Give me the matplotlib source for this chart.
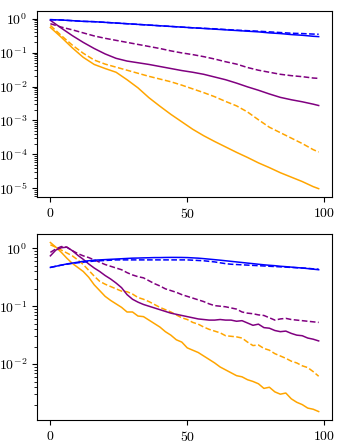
import numpy as np
import matplotlib
matplotlib.use("Agg")
import matplotlib.pyplot as plt

plt.rcParams["font.family"] = "serif"
plt.rcParams["font.serif"] = ["cmr10", "DejaVu Serif"]
plt.rcParams["mathtext.fontset"] = "cm"
plt.rcParams["axes.formatter.use_mathtext"] = True
plt.rcParams["font.size"] = 10

# ---- top panel: values (log10 of y) ----
x_top = [0, 4, 8, 12, 16, 20, 24, 28, 32, 36, 40, 44, 48, 52, 56, 60, 64,
         68, 72, 76, 80, 84, 88, 92, 96, 98]

top_blue_solid = [-0.03, -0.04, -0.06, -0.08, -0.09, -0.11, -0.13, -0.15, -0.17,
                  -0.19, -0.21, -0.23, -0.25, -0.27, -0.29, -0.31, -0.33, -0.35,
                  -0.37, -0.39, -0.42, -0.44, -0.47, -0.49, -0.52, -0.53]
top_blue_dashed = [-0.03, -0.04, -0.06, -0.08, -0.09, -0.11, -0.13, -0.15, -0.17,
                   -0.19, -0.21, -0.23, -0.25, -0.27, -0.285, -0.30, -0.32, -0.34,
                   -0.355, -0.37, -0.39, -0.41, -0.43, -0.44, -0.455, -0.46]
top_purple_solid = [-0.05, -0.28, -0.50, -0.70, -0.88, -1.04, -1.17, -1.25, -1.30,
                    -1.35, -1.41, -1.47, -1.53, -1.58, -1.64, -1.72, -1.80, -1.90,
                    -2.01, -2.11, -2.22, -2.32, -2.39, -2.45, -2.52, -2.56]
top_purple_dashed = [-0.15, -0.25, -0.33, -0.42, -0.51, -0.58, -0.64, -0.70, -0.76,
                     -0.82, -0.88, -0.95, -1.01, -1.06, -1.12, -1.19, -1.27, -1.34,
                     -1.44, -1.52, -1.58, -1.64, -1.68, -1.71, -1.75, -1.76]
top_orange_solid = [-0.26, -0.55, -0.86, -1.14, -1.35, -1.47, -1.58, -1.80, -2.04,
                    -2.33, -2.58, -2.82, -3.04, -3.26, -3.45, -3.62, -3.78, -3.94,
                    -4.09, -4.25, -4.39, -4.54, -4.67, -4.80, -4.95, -5.01]
top_orange_dashed = [-0.20, -0.50, -0.78, -1.02, -1.22, -1.34, -1.43, -1.52, -1.61,
                     -1.70, -1.78, -1.86, -1.96, -2.07, -2.18, -2.30, -2.44, -2.57,
                     -2.75, -2.98, -3.20, -3.36, -3.52, -3.68, -3.86, -3.93]

# ---- bottom panel (log10 of y) ----
x_bot = list(range(0, 100, 2))

bot_blue_solid = [-0.33, -0.31, -0.29, -0.27, -0.255, -0.24, -0.225, -0.215, -0.205, -0.20,
                  -0.195, -0.19, -0.185, -0.18, -0.175, -0.17, -0.168, -0.165, -0.163, -0.16,
                  -0.16, -0.158, -0.157, -0.157, -0.158, -0.16, -0.165, -0.17, -0.178, -0.187,
                  -0.196, -0.205, -0.215, -0.225, -0.235, -0.245, -0.255, -0.265, -0.275, -0.285,
                  -0.293, -0.30, -0.31, -0.317, -0.325, -0.333, -0.34, -0.35, -0.36, -0.37]
bot_blue_dashed = [-0.33, -0.31, -0.29, -0.275, -0.26, -0.25, -0.24, -0.23, -0.22, -0.215,
                   -0.21, -0.205, -0.20, -0.20, -0.20, -0.20, -0.20, -0.20, -0.20, -0.20,
                   -0.20, -0.20, -0.20, -0.20, -0.20, -0.20, -0.205, -0.21, -0.215, -0.225,
                   -0.235, -0.25, -0.265, -0.275, -0.28, -0.285, -0.29, -0.295, -0.30, -0.305,
                   -0.31, -0.315, -0.32, -0.325, -0.33, -0.335, -0.34, -0.345, -0.355, -0.36]
bot_purple_solid = [-0.13, -0.03, 0.01, 0.02, -0.04, -0.12, -0.19, -0.27, -0.34, -0.40,
                    -0.47, -0.53, -0.60, -0.68, -0.80, -0.88, -0.93, -0.97, -1.00, -1.03,
                    -1.06, -1.09, -1.12, -1.14, -1.16, -1.18, -1.20, -1.22, -1.23, -1.24,
                    -1.24, -1.23, -1.24, -1.24, -1.26, -1.25, -1.29, -1.33, -1.31, -1.37,
                    -1.38, -1.42, -1.44, -1.43, -1.47, -1.50, -1.51, -1.55, -1.57, -1.60]
bot_purple_dashed = [-0.07, -0.01, 0.03, 0.02, -0.04, -0.09, -0.13, -0.16, -0.20, -0.24,
                     -0.28, -0.31, -0.34, -0.37, -0.42, -0.46, -0.49, -0.51, -0.56, -0.61,
                     -0.65, -0.70, -0.73, -0.76, -0.80, -0.83, -0.86, -0.89, -0.92, -0.96,
                     -0.99, -1.00, -1.01, -1.03, -1.05, -1.10, -1.12, -1.13, -1.15, -1.16,
                     -1.20, -1.24, -1.22, -1.21, -1.23, -1.24, -1.25, -1.26, -1.27, -1.28]
bot_orange_solid = [0.10, 0.02, -0.07, -0.17, -0.26, -0.33, -0.40, -0.50, -0.63, -0.73,
                    -0.83, -0.90, -0.96, -1.02, -1.10, -1.10, -1.17, -1.18, -1.24, -1.30,
                    -1.36, -1.44, -1.50, -1.58, -1.62, -1.72, -1.76, -1.80, -1.86, -1.92,
                    -1.98, -2.05, -2.10, -2.15, -2.20, -2.22, -2.27, -2.30, -2.34, -2.42,
                    -2.40, -2.48, -2.52, -2.50, -2.60, -2.66, -2.70, -2.76, -2.78, -2.82]
bot_orange_dashed = [0.06, 0.02, -0.03, -0.08, -0.13, -0.20, -0.28, -0.38, -0.48, -0.57,
                     -0.62, -0.66, -0.70, -0.74, -0.75, -0.79, -0.85, -0.88, -0.92, -0.97,
                     -1.02, -1.06, -1.10, -1.15, -1.20, -1.23, -1.28, -1.31, -1.36, -1.40,
                     -1.43, -1.46, -1.51, -1.52, -1.53, -1.55, -1.62, -1.68, -1.67, -1.73,
                     -1.76, -1.82, -1.86, -1.90, -1.95, -1.98, -2.03, -2.06, -2.13, -2.21]

LW = 1.1


def draw(ax, x, series):
    for vals, color, ls in series:
        ax.plot(x, np.power(10.0, vals), color=color, ls=ls, lw=LW)
    ax.set_yscale("log")
    ax.set_xticks([0, 50, 100])


fig = plt.figure(figsize=(3.59, 4.48), dpi=100)
ax_top = fig.add_axes([0.103, 0.560, 0.822, 0.415])
ax_bot = fig.add_axes([0.103, 0.0625, 0.822, 0.415])

draw(ax_top, x_top, [
    (top_orange_solid, "orange", "-"),
    (top_orange_dashed, "orange", "--"),
    (top_purple_solid, "purple", "-"),
    (top_purple_dashed, "purple", "--"),
    (top_blue_dashed, "blue", "--"),
    (top_blue_solid, "blue", "-"),
])
draw(ax_bot, x_bot, [
    (bot_orange_solid, "orange", "-"),
    (bot_orange_dashed, "orange", "--"),
    (bot_purple_solid, "purple", "-"),
    (bot_purple_dashed, "purple", "--"),
    (bot_blue_dashed, "blue", "--"),
    (bot_blue_solid, "blue", "-"),
])

fig.savefig("out.png", dpi=100)
